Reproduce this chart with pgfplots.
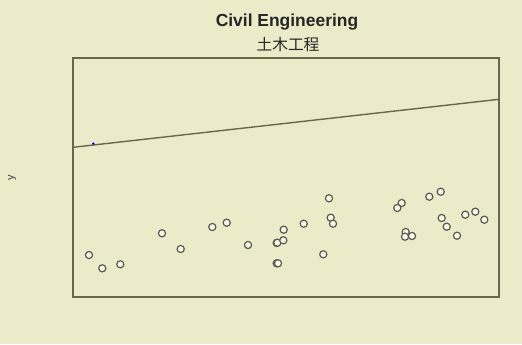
\documentclass[border=0pt]{standalone}
\usepackage{pgfplots}
\pgfplotsset{compat=1.18}
\usepackage{fontspec}
\setmainfont{Liberation Sans}
\newfontfamily\cjk{Noto Sans CJK SC}
\definecolor{bg}{RGB}{235,235,202}
\definecolor{axc}{RGB}{105,103,75}
\definecolor{mk}{RGB}{90,90,78}
\begin{document}
\begin{tikzpicture}[x=1bp,y=1bp]
\useasboundingbox (0,0) rectangle (522,344);
\fill[bg] (0,0) rectangle (522,344);
\node[font=\fontsize{17.5}{19}\selectfont\bfseries, text=black!85] at (287,322) {Civil Engineering};
\node[font=\fontsize{15.8}{17}\selectfont\cjk, text=black!85] at (288,299.5) {土木工程};
\begin{axis}[
  at={(73bp,47bp)}, anchor=south west,
  scale only axis, width=426bp, height=239bp,
  xmin=73, xmax=499, ymin=47, ymax=286,
  axis line style={axc, line width=1.4pt},
  ticks=none,
  ylabel={y}, ylabel style={font=\fontsize{11}{12}\selectfont, at={(axis description cs:-0.143,0.5)}, anchor=center, text=black!75},
  clip=false,
]
\addplot[axc, line width=1.4pt] coordinates {(73,196.7) (499,244.7)};
\addplot[only marks, mark=*, mark size=3.6pt, mark options={draw=mk, fill=white!60!bg, line width=1.2pt}] coordinates {
(89,89) (102.3,75.7) (120.3,79.7) (162,110.7) (180.7,95) (212.3,117) (226.7,121.3)
(248,99) (276.7,101) (276.7,80.7) (283.7,114.3) (277.3,101.3) (283.3,103.7) (278,80.7)
(303.7,120.3) (329,145.7) (330.7,126.3) (333,120.3) (323.3,89.7) (401.7,141) (397.3,136)
(405.7,112) (405,107.3) (412,108) (429.3,147.3) (440.7,152.3) (441.7,126) (446.7,117.3)
(457,108.3) (465.3,129.3) (475.3,132.3) (484.3,124.3)
};
\addplot[only marks, mark=*, mark size=1pt, blue] coordinates {(93.3,200.3)};
\end{axis}
\end{tikzpicture}
\end{document}
